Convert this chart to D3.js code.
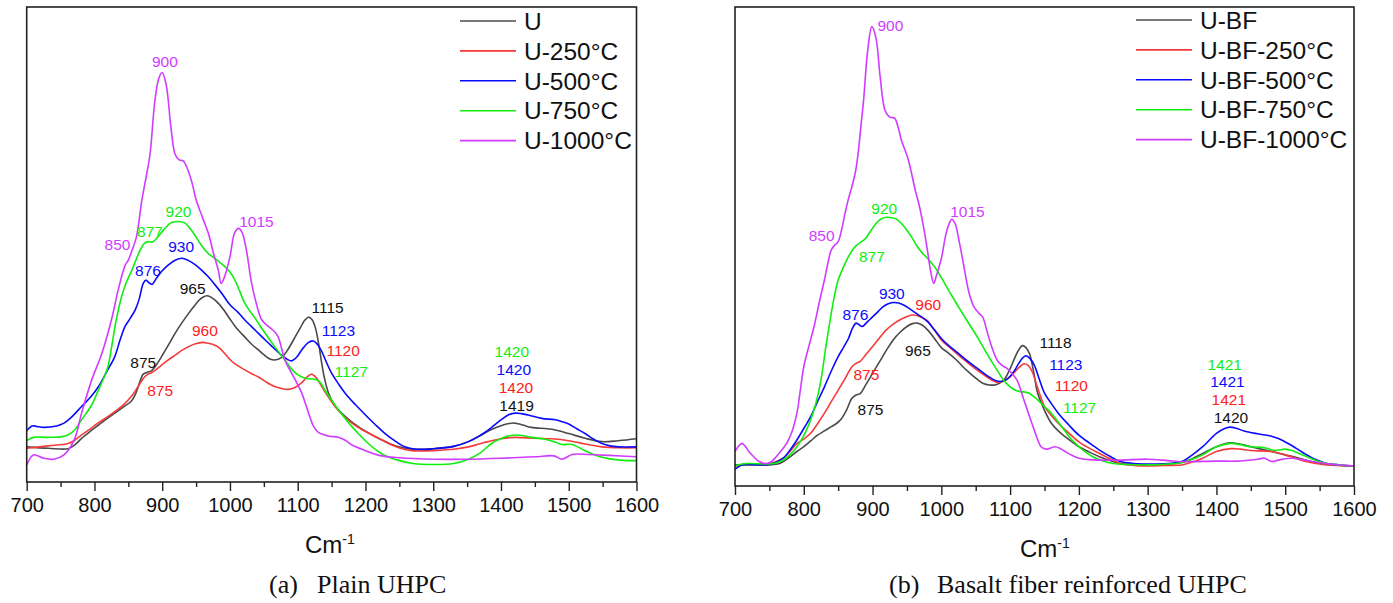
<!DOCTYPE html>
<html>
<head>
<meta charset="utf-8">
<script src="https://cdn.jsdelivr.net/npm/d3@7/dist/d3.min.js"></script>
<style>
  html, body { margin: 0; padding: 0; background: #fff; }
  svg { display: block; }
</style>
</head>
<body>
<svg id="chart" width="1393" height="603"></svg>
<script>
// ---- axis ticks (wavenumber, cm-1) ----
const majorTicks = [700, 800, 900, 1000, 1100, 1200, 1300, 1400, 1500, 1600];
const minorTicks = [750, 850, 950, 1050, 1150, 1250, 1350, 1450, 1550];

// ---- FTIR spectra of plain UHPC: [wavenumber, absorbance (a.u.)] ----
const plainU = [[700,0.074],[732,0.071],[761,0.070],[771,0.078],[781,0.092],[795,0.108],[806,0.120],[818,0.133],[830,0.145],[843,0.158],[855,0.171],[862,0.19],[868,0.215],[872,0.227],[878,0.231],[884,0.234],[892,0.248],[899,0.264],[909,0.288],[919,0.313],[929,0.335],[939,0.355],[947,0.37],[954,0.382],[960,0.389],[966,0.392],[972,0.389],[978,0.383],[983,0.376],[992,0.36],[1000,0.343],[1008,0.327],[1022,0.305],[1032,0.29],[1042,0.278],[1050,0.268],[1059,0.259],[1066,0.257],[1076,0.262],[1086,0.28],[1096,0.305],[1104,0.325],[1110,0.34],[1116,0.347],[1121,0.342],[1126,0.325],[1131,0.29],[1136,0.245],[1140,0.215],[1146,0.185],[1152,0.167],[1160,0.152],[1175,0.132],[1190,0.116],[1205,0.103],[1219,0.092],[1234,0.082],[1249,0.074],[1268,0.069],[1300,0.070],[1330,0.075],[1352,0.085],[1370,0.098],[1385,0.11],[1401,0.119],[1412,0.123],[1420,0.124],[1432,0.12],[1445,0.115],[1475,0.111],[1500,0.102],[1524,0.092],[1549,0.085],[1573,0.087],[1600,0.091]];
const plainU250 = [[700,0.071],[732,0.076],[761,0.081],[771,0.088],[781,0.099],[795,0.113],[806,0.125],[818,0.136],[830,0.148],[843,0.163],[855,0.181],[864,0.2],[872,0.218],[878,0.226],[884,0.230],[892,0.238],[899,0.246],[909,0.257],[919,0.267],[929,0.277],[939,0.285],[949,0.291],[959,0.294],[968,0.292],[976,0.289],[983,0.284],[992,0.271],[1000,0.258],[1008,0.248],[1022,0.236],[1032,0.228],[1042,0.221],[1054,0.21],[1066,0.201],[1076,0.197],[1086,0.195],[1096,0.199],[1106,0.209],[1113,0.22],[1120,0.227],[1126,0.222],[1131,0.212],[1138,0.195],[1146,0.177],[1155,0.159],[1167,0.14],[1180,0.124],[1195,0.11],[1210,0.099],[1225,0.088],[1239,0.078],[1254,0.07],[1268,0.066],[1300,0.066],[1330,0.069],[1352,0.074],[1368,0.08],[1381,0.085],[1400,0.091],[1420,0.094],[1450,0.092],[1475,0.091],[1500,0.087],[1524,0.08],[1549,0.074],[1575,0.072],[1600,0.072]];
const plainU500 = [[700,0.108],[708,0.118],[715,0.117],[725,0.115],[744,0.118],[755,0.124],[765,0.135],[781,0.159],[795,0.18],[806,0.201],[818,0.232],[830,0.264],[838,0.3],[845,0.327],[853,0.345],[860,0.362],[866,0.385],[872,0.418],[876,0.425],[880,0.42],[885,0.416],[892,0.43],[899,0.443],[910,0.458],[919,0.467],[929,0.471],[939,0.466],[949,0.457],[958,0.446],[968,0.432],[978,0.415],[988,0.397],[1000,0.373],[1012,0.357],[1022,0.341],[1037,0.32],[1052,0.299],[1064,0.283],[1076,0.267],[1085,0.258],[1091,0.255],[1098,0.262],[1106,0.278],[1115,0.293],[1123,0.297],[1129,0.29],[1135,0.276],[1143,0.25],[1150,0.229],[1160,0.207],[1170,0.187],[1185,0.163],[1200,0.141],[1215,0.12],[1229,0.102],[1244,0.086],[1258,0.074],[1275,0.069],[1300,0.070],[1330,0.075],[1352,0.085],[1368,0.097],[1381,0.109],[1401,0.132],[1412,0.142],[1421,0.145],[1430,0.144],[1440,0.141],[1460,0.134],[1480,0.131],[1490,0.127],[1500,0.122],[1512,0.112],[1524,0.102],[1537,0.09],[1549,0.081],[1561,0.076],[1573,0.074],[1600,0.074]];
const plainU750 = [[700,0.087],[710,0.094],[730,0.094],[750,0.095],[761,0.099],[771,0.11],[781,0.131],[795,0.16],[806,0.194],[814,0.22],[820,0.243],[826,0.29],[832,0.34],[840,0.39],[847,0.42],[855,0.445],[862,0.47],[868,0.49],[874,0.503],[880,0.506],[885,0.505],[890,0.51],[897,0.522],[904,0.534],[912,0.545],[919,0.548],[927,0.548],[934,0.545],[942,0.532],[949,0.518],[958,0.498],[968,0.481],[980,0.468],[993,0.453],[1003,0.436],[1012,0.41],[1022,0.376],[1037,0.345],[1052,0.313],[1066,0.285],[1081,0.257],[1092,0.236],[1101,0.225],[1110,0.219],[1120,0.217],[1127,0.216],[1133,0.21],[1140,0.194],[1150,0.172],[1160,0.152],[1175,0.125],[1190,0.101],[1205,0.08],[1220,0.063],[1235,0.052],[1250,0.045],[1270,0.039],[1300,0.037],[1330,0.039],[1352,0.048],[1370,0.062],[1385,0.08],[1401,0.092],[1415,0.098],[1425,0.099],[1445,0.094],[1465,0.09],[1480,0.084],[1490,0.079],[1505,0.079],[1524,0.066],[1549,0.052],[1575,0.046],[1600,0.045]];
const plainU1000 = [[700,0.036],[710,0.057],[725,0.050],[740,0.048],[755,0.057],[770,0.088],[781,0.145],[796,0.215],[811,0.271],[825,0.341],[835,0.404],[845,0.455],[850,0.467],[856,0.49],[862,0.516],[870,0.594],[876,0.64],[882,0.69],[889,0.80],[895,0.85],[900,0.862],[906,0.835],[913,0.745],[919,0.69],[925,0.678],[931,0.676],[937,0.66],[944,0.63],[950,0.594],[960,0.555],[968,0.524],[976,0.48],[983,0.445],[987,0.418],[992,0.432],[1000,0.474],[1007,0.525],[1013,0.534],[1018,0.525],[1024,0.49],[1032,0.418],[1040,0.37],[1047,0.341],[1057,0.327],[1065,0.318],[1071,0.306],[1081,0.257],[1091,0.229],[1100,0.205],[1106,0.187],[1116,0.145],[1123,0.118],[1130,0.105],[1145,0.097],[1160,0.094],[1170,0.088],[1180,0.078],[1200,0.066],[1220,0.056],[1250,0.051],[1300,0.048],[1350,0.048],[1400,0.050],[1450,0.053],[1478,0.055],[1490,0.048],[1505,0.058],[1530,0.058],[1560,0.056],[1600,0.053]];

// ---- FTIR spectra of basalt fiber reinforced UHPC ----
const basaltU = [[700,0.044],[720,0.044],[750,0.044],[765,0.047],[780,0.061],[790,0.072],[800,0.082],[810,0.094],[820,0.106],[830,0.115],[840,0.124],[848,0.131],[855,0.141],[862,0.158],[870,0.183],[876,0.19],[882,0.193],[890,0.211],[900,0.235],[910,0.259],[920,0.283],[930,0.305],[940,0.321],[950,0.333],[958,0.339],[965,0.340],[972,0.336],[980,0.326],[990,0.308],[1000,0.289],[1010,0.278],[1022,0.263],[1032,0.248],[1042,0.235],[1052,0.223],[1061,0.214],[1070,0.211],[1078,0.211],[1085,0.215],[1092,0.223],[1100,0.245],[1106,0.265],[1112,0.283],[1118,0.293],[1123,0.289],[1128,0.277],[1134,0.24],[1140,0.194],[1150,0.158],[1160,0.131],[1170,0.115],[1180,0.103],[1190,0.092],[1200,0.082],[1215,0.071],[1230,0.061],[1245,0.053],[1260,0.047],[1280,0.045],[1300,0.044],[1330,0.046],[1350,0.049],[1365,0.057],[1380,0.068],[1400,0.082],[1420,0.090],[1435,0.087],[1450,0.082],[1465,0.077],[1480,0.072],[1500,0.065],[1515,0.06],[1530,0.054],[1545,0.049],[1560,0.046],[1580,0.043],[1600,0.042]];
const basaltU250 = [[700,0.040],[710,0.045],[720,0.046],[750,0.047],[770,0.058],[780,0.072],[790,0.089],[800,0.098],[810,0.110],[820,0.13],[830,0.152],[840,0.176],[850,0.200],[860,0.224],[870,0.249],[876,0.256],[882,0.26],[890,0.274],[900,0.291],[910,0.309],[920,0.326],[930,0.338],[940,0.347],[950,0.354],[960,0.357],[970,0.353],[980,0.345],[990,0.325],[1000,0.305],[1010,0.292],[1022,0.277],[1037,0.259],[1052,0.242],[1066,0.228],[1076,0.219],[1083,0.216],[1092,0.22],[1100,0.228],[1110,0.243],[1120,0.255],[1126,0.252],[1132,0.239],[1140,0.205],[1150,0.166],[1160,0.147],[1170,0.131],[1185,0.111],[1200,0.092],[1215,0.079],[1230,0.068],[1245,0.057],[1260,0.047],[1280,0.043],[1300,0.042],[1330,0.043],[1350,0.044],[1365,0.05],[1380,0.058],[1400,0.072],[1421,0.078],[1435,0.077],[1450,0.074],[1480,0.072],[1500,0.065],[1515,0.058],[1530,0.051],[1545,0.047],[1560,0.044],[1600,0.042]];
const basaltU500 = [[700,0.035],[710,0.044],[720,0.045],[750,0.045],[760,0.05],[770,0.058],[780,0.075],[790,0.096],[800,0.12],[810,0.145],[820,0.176],[830,0.207],[840,0.24],[850,0.270],[858,0.29],[865,0.308],[871,0.33],[876,0.340],[880,0.337],[885,0.333],[892,0.342],[900,0.353],[908,0.364],[915,0.374],[922,0.38],[930,0.383],[938,0.382],[945,0.378],[952,0.372],[960,0.364],[970,0.354],[980,0.343],[990,0.326],[1000,0.308],[1010,0.294],[1022,0.280],[1037,0.262],[1052,0.246],[1066,0.231],[1081,0.219],[1090,0.219],[1098,0.226],[1105,0.238],[1113,0.257],[1118,0.267],[1123,0.272],[1129,0.266],[1135,0.253],[1142,0.225],[1150,0.194],[1160,0.172],[1170,0.152],[1185,0.128],[1200,0.106],[1215,0.09],[1230,0.075],[1245,0.062],[1260,0.051],[1280,0.047],[1300,0.046],[1330,0.047],[1350,0.051],[1365,0.065],[1380,0.082],[1400,0.110],[1412,0.12],[1420,0.123],[1430,0.12],[1440,0.115],[1460,0.109],[1480,0.104],[1490,0.099],[1500,0.092],[1510,0.084],[1520,0.075],[1530,0.066],[1540,0.058],[1550,0.052],[1560,0.047],[1580,0.044],[1600,0.042]];
const basaltU750 = [[700,0.042],[710,0.046],[720,0.047],[750,0.046],[760,0.048],[770,0.054],[780,0.065],[790,0.082],[800,0.105],[810,0.138],[818,0.175],[825,0.221],[832,0.29],[840,0.361],[845,0.4],[850,0.430],[858,0.458],[865,0.479],[872,0.495],[877,0.503],[884,0.51],[890,0.517],[897,0.532],[905,0.548],[912,0.557],[920,0.561],[928,0.56],[935,0.557],[942,0.548],[950,0.534],[958,0.517],[965,0.500],[972,0.487],[980,0.475],[990,0.458],[1000,0.435],[1010,0.41],[1022,0.381],[1037,0.346],[1052,0.312],[1066,0.277],[1081,0.242],[1090,0.222],[1100,0.207],[1108,0.2],[1115,0.197],[1122,0.196],[1127,0.194],[1133,0.188],[1140,0.180],[1150,0.166],[1160,0.152],[1175,0.124],[1190,0.096],[1205,0.076],[1220,0.061],[1235,0.052],[1250,0.047],[1270,0.045],[1300,0.044],[1330,0.046],[1350,0.049],[1365,0.056],[1380,0.065],[1400,0.082],[1421,0.089],[1435,0.086],[1450,0.082],[1470,0.080],[1485,0.074],[1500,0.077],[1510,0.074],[1520,0.068],[1535,0.059],[1545,0.053],[1560,0.047],[1580,0.044],[1600,0.042]];
const basaltU1000 = [[700,0.072],[705,0.083],[710,0.089],[715,0.083],[720,0.072],[728,0.06],[735,0.051],[745,0.047],[752,0.05],[760,0.061],[768,0.075],[775,0.089],[782,0.11],[790,0.152],[795,0.2],[800,0.249],[808,0.295],[815,0.333],[822,0.38],[830,0.430],[835,0.465],[840,0.493],[845,0.503],[850,0.510],[855,0.535],[860,0.569],[865,0.6],[870,0.625],[875,0.655],[879,0.694],[883,0.75],[887,0.806],[893,0.91],[899,0.959],[905,0.935],[911,0.855],[918,0.785],[925,0.770],[932,0.768],[937,0.75],[942,0.722],[952,0.681],[962,0.618],[968,0.585],[975,0.534],[980,0.49],[985,0.444],[989,0.423],[993,0.44],[1000,0.475],[1007,0.528],[1012,0.55],[1015,0.557],[1020,0.548],[1026,0.51],[1032,0.465],[1040,0.405],[1047,0.375],[1055,0.36],[1060,0.353],[1066,0.325],[1072,0.296],[1081,0.263],[1088,0.252],[1095,0.246],[1102,0.236],[1110,0.221],[1120,0.18],[1130,0.138],[1138,0.105],[1145,0.082],[1150,0.078],[1155,0.077],[1160,0.08],[1165,0.082],[1172,0.079],[1180,0.072],[1190,0.064],[1200,0.058],[1215,0.055],[1230,0.054],[1260,0.054],[1300,0.056],[1330,0.053],[1350,0.051],[1400,0.052],[1430,0.052],[1460,0.056],[1470,0.058],[1480,0.051],[1490,0.054],[1500,0.057],[1510,0.058],[1525,0.055],[1540,0.051],[1570,0.045],[1600,0.042]];

// ---- series names ----
const plainNames = ["U", "U-250°C", "U-500°C", "U-750°C", "U-1000°C"];
const basaltNames = ["U-BF", "U-BF-250°C", "U-BF-500°C", "U-BF-750°C", "U-BF-1000°C"];

// ---- peak annotations: [text, wavenumber, absorbance, series index] ----
const plainPeaks = [
  ["900", 904, 0.885, 4], ["850", 834, 0.499, 4], ["1015", 1039, 0.548, 4],
  ["877", 882, 0.527, 3], ["920", 924, 0.569, 3], ["1127", 1179, 0.232, 3], ["1420", 1416, 0.274, 3],
  ["876", 879, 0.445, 2], ["930", 928, 0.495, 2], ["1123", 1160, 0.320, 2], ["1420", 1419, 0.236, 2],
  ["960", 963, 0.320, 1], ["875", 897, 0.192, 1], ["1120", 1167, 0.276, 1], ["1420", 1422, 0.199, 1],
  ["965", 945, 0.408, 0], ["875", 872, 0.251, 0], ["1115", 1144, 0.367, 0], ["1419", 1423, 0.162, 0]
];
const basaltPeaks = [
  ["900", 926, 0.962, 4], ["850", 826, 0.522, 4], ["1015", 1038, 0.573, 4],
  ["920", 917, 0.580, 3], ["877", 899, 0.480, 3], ["1127", 1201, 0.163, 3], ["1421", 1412, 0.254, 3],
  ["930", 928, 0.402, 2], ["876", 875, 0.358, 2], ["1123", 1181, 0.254, 2], ["1421", 1416, 0.218, 2],
  ["960", 981, 0.379, 1], ["875", 891, 0.233, 1], ["1120", 1189, 0.209, 1], ["1421", 1418, 0.180, 1],
  ["965", 966, 0.282, 0], ["875", 897, 0.160, 0], ["1118", 1166, 0.299, 0], ["1420", 1421, 0.143, 0]
];

// line colours, and the matching colours for the peak labels
const seriesColors = ["#4a4a4a", "#f63a3a", "#0a0aff", "#10ee10", "#d03cff"];
const labelColors = ["#111111", "#ff2020", "#0a0aff", "#10ee10", "#d03cff"];

const svg = d3.select("#chart");
svg.append("rect").attr("width", 1393).attr("height", 603).attr("fill", "#fff");

const SANS = "'Liberation Sans', Arial, sans-serif";
const SERIF = "'Liberation Serif', 'Times New Roman', serif";

function drawPanel(cfg) {
  const x = d3.scaleLinear().domain([700, 1600]).range([cfg.left, cfg.right]);
  const y = d3.scaleLinear().domain([0, 1]).range([cfg.bottom, cfg.top]);
  const g = svg.append("g");

  // clip region for the spectra
  const clipId = "clip-" + cfg.id;
  g.append("clipPath").attr("id", clipId).append("rect")
    .attr("x", cfg.left).attr("y", cfg.top)
    .attr("width", cfg.right - cfg.left).attr("height", cfg.bottom - cfg.top);

  const line = d3.line()
    .x(d => x(d[0])).y(d => y(d[1]))
    .curve(d3.curveCatmullRom.alpha(0.5));

  g.append("g").attr("clip-path", `url(#${clipId})`)
    .selectAll("path").data(cfg.series).join("path")
    .attr("d", d => line(d))
    .attr("fill", "none")
    .attr("stroke", (d, i) => seriesColors[i])
    .attr("stroke-width", 1.6)
    .attr("stroke-linejoin", "round");

  // frame
  g.append("rect")
    .attr("x", cfg.left).attr("y", cfg.top)
    .attr("width", cfg.right - cfg.left).attr("height", cfg.bottom - cfg.top)
    .attr("fill", "none").attr("stroke", "#222").attr("stroke-width", 1.6);

  // bottom axis: major ticks with labels, minor ticks without
  const major = g.append("g").attr("transform", `translate(0,${cfg.bottom})`)
    .call(d3.axisBottom(x).tickValues(majorTicks).tickSize(9).tickPadding(7).tickFormat(d3.format("d")));
  major.select(".domain").remove();
  major.selectAll("line").attr("stroke", "#222").attr("stroke-width", 1.4);
  major.selectAll("text").attr("font-family", SANS).attr("font-size", 20).attr("fill", "#111");

  const minor = g.append("g").attr("transform", `translate(0,${cfg.bottom})`)
    .call(d3.axisBottom(x).tickValues(minorTicks).tickSize(5).tickFormat(""));
  minor.select(".domain").remove();
  minor.selectAll("line").attr("stroke", "#222").attr("stroke-width", 1.4);

  // axis title: Cm^-1
  const title = g.append("text")
    .attr("x", cfg.titleX).attr("y", cfg.bottom + 71)
    .attr("font-family", SANS).attr("font-size", 24).attr("fill", "#111");
  title.append("tspan").text("Cm");
  title.append("tspan").attr("font-size", 14).attr("dy", -9).text("-1");

  // caption
  const cap = g.append("text")
    .attr("y", 593).attr("font-family", SERIF).attr("font-size", 26).attr("fill", "#111");
  cap.append("tspan").attr("x", cfg.capX).text(cfg.capTag);
  cap.append("tspan").attr("x", cfg.capX + cfg.capGap).text(cfg.capText);

  // peak annotations
  g.selectAll("text.peak").data(cfg.peaks).join("text")
    .attr("class", "peak")
    .attr("x", d => x(d[1])).attr("y", d => y(d[2]) + 5.5)
    .attr("text-anchor", "middle")
    .attr("font-family", SANS).attr("font-size", 15.5)
    .attr("fill", d => labelColors[d[3]])
    .text(d => d[0]);

  // legend
  const leg = g.append("g");
  cfg.names.forEach((name, i) => {
    const ly = cfg.legendY + i * 29.9;
    leg.append("line")
      .attr("x1", cfg.legendX).attr("x2", cfg.legendX + 56)
      .attr("y1", ly).attr("y2", ly)
      .attr("stroke", seriesColors[i]).attr("stroke-width", 1.6);
    leg.append("text")
      .attr("x", cfg.legendX + 64).attr("y", ly + 8.7)
      .attr("font-family", SANS).attr("font-size", 24.5).attr("fill", "#111")
      .text(name);
  });
}

drawPanel({
  id: "plain", left: 26.7, right: 636.5, top: 7, bottom: 482,
  series: [plainU, plainU250, plainU500, plainU750, plainU1000],
  names: plainNames, peaks: plainPeaks,
  legendX: 460, legendY: 21,
  titleX: 305, capX: 269, capGap: 48, capTag: "(a)", capText: "Plain UHPC"
});

drawPanel({
  id: "basalt", left: 735, right: 1354, top: 7, bottom: 486,
  series: [basaltU, basaltU250, basaltU500, basaltU750, basaltU1000],
  names: basaltNames, peaks: basaltPeaks,
  legendX: 1136, legendY: 20,
  titleX: 1020, capX: 889, capGap: 48, capTag: "(b)", capText: "Basalt fiber reinforced UHPC"
});
</script>
</body>
</html>
